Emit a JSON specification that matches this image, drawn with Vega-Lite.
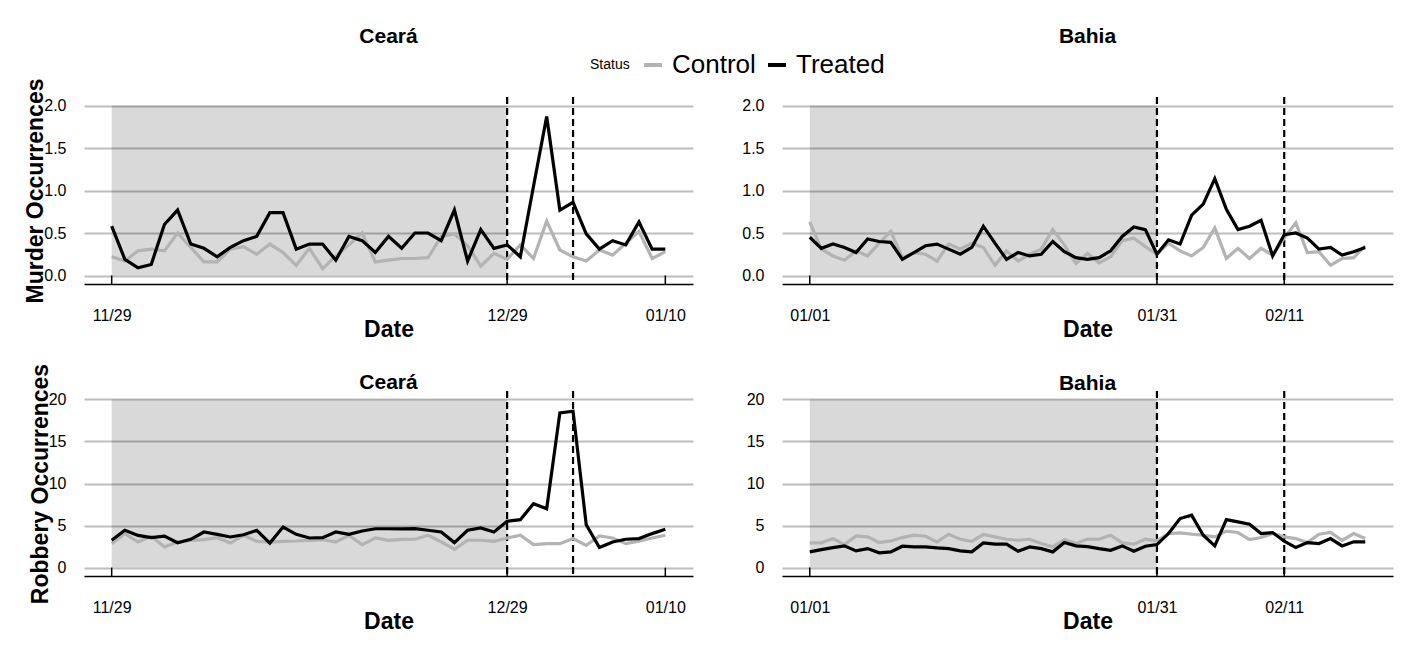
{
"$schema": "https://vega.github.io/schema/vega-lite/v6.json",
"background": "white",
"padding": {"left": 24, "top": 25, "right": 5, "bottom": 5},
"bounds": "flush",
"columns": 2,
"spacing": {"row": 107, "column": 89},
"config": {
  "font": "Liberation Sans",
  "view": {"stroke": null},
  "title": {"fontSize": 21, "fontWeight": "bold", "color": "black", "font": "Liberation Sans"},
  "axis": {"labelFont": "Liberation Sans", "titleFont": "Liberation Sans", "labelColor": "black", "titleColor": "black", "labelFontSize": 16, "titleFontSize": 23, "titleFontWeight": "bold"},
  "axisY": {"grid": true, "gridColor": "#bebebe", "gridWidth": 2, "domain": false, "ticks": false, "labelPadding": 18, "titlePadding": -4},
  "axisX": {"grid": false, "ticks": false, "domainColor": "black", "domainWidth": 1.5, "labelPadding": 23, "titlePadding": -5},
  "legend": {"labelFont": "Liberation Sans", "titleFont": "Liberation Sans"}
},
"datasets": {
  "ce_m": [
    {"date":"2011-11-29","Control":0.22,"Treated":0.58},
    {"date":"2011-11-30","Control":0.17,"Treated":0.19},
    {"date":"2011-12-01","Control":0.29,"Treated":0.09},
    {"date":"2011-12-02","Control":0.31,"Treated":0.13},
    {"date":"2011-12-03","Control":0.29,"Treated":0.60},
    {"date":"2011-12-04","Control":0.50,"Treated":0.77},
    {"date":"2011-12-05","Control":0.33,"Treated":0.37},
    {"date":"2011-12-06","Control":0.16,"Treated":0.32},
    {"date":"2011-12-07","Control":0.16,"Treated":0.22},
    {"date":"2011-12-08","Control":0.31,"Treated":0.33},
    {"date":"2011-12-09","Control":0.34,"Treated":0.41},
    {"date":"2011-12-10","Control":0.25,"Treated":0.46},
    {"date":"2011-12-11","Control":0.37,"Treated":0.74},
    {"date":"2011-12-12","Control":0.27,"Treated":0.74},
    {"date":"2011-12-13","Control":0.12,"Treated":0.31},
    {"date":"2011-12-14","Control":0.32,"Treated":0.37},
    {"date":"2011-12-15","Control":0.08,"Treated":0.37},
    {"date":"2011-12-16","Control":0.23,"Treated":0.18},
    {"date":"2011-12-17","Control":0.36,"Treated":0.46},
    {"date":"2011-12-18","Control":0.50,"Treated":0.41},
    {"date":"2011-12-19","Control":0.16,"Treated":0.27},
    {"date":"2011-12-20","Control":0.18,"Treated":0.46},
    {"date":"2011-12-21","Control":0.20,"Treated":0.32},
    {"date":"2011-12-22","Control":0.20,"Treated":0.50},
    {"date":"2011-12-23","Control":0.21,"Treated":0.50},
    {"date":"2011-12-24","Control":0.46,"Treated":0.41},
    {"date":"2011-12-25","Control":0.49,"Treated":0.77},
    {"date":"2011-12-26","Control":0.35,"Treated":0.17},
    {"date":"2011-12-27","Control":0.11,"Treated":0.54},
    {"date":"2011-12-28","Control":0.26,"Treated":0.32},
    {"date":"2011-12-29","Control":0.19,"Treated":0.36},
    {"date":"2011-12-30","Control":0.36,"Treated":0.22},
    {"date":"2011-12-31","Control":0.20,"Treated":1.05},
    {"date":"2012-01-01","Control":0.64,"Treated":1.87},
    {"date":"2012-01-02","Control":0.30,"Treated":0.77},
    {"date":"2012-01-03","Control":0.22,"Treated":0.86},
    {"date":"2012-01-04","Control":0.17,"Treated":0.49},
    {"date":"2012-01-05","Control":0.30,"Treated":0.31},
    {"date":"2012-01-06","Control":0.24,"Treated":0.41},
    {"date":"2012-01-07","Control":0.38,"Treated":0.36},
    {"date":"2012-01-08","Control":0.52,"Treated":0.63},
    {"date":"2012-01-09","Control":0.20,"Treated":0.31},
    {"date":"2012-01-10","Control":0.28,"Treated":0.31}
  ],
  "ce_r": [
    {"date":"2011-11-29","Control":2.85,"Treated":3.24},
    {"date":"2011-11-30","Control":4.03,"Treated":4.43},
    {"date":"2011-12-01","Control":3.04,"Treated":3.83},
    {"date":"2011-12-02","Control":3.72,"Treated":3.56},
    {"date":"2011-12-03","Control":2.45,"Treated":3.75},
    {"date":"2011-12-04","Control":3.04,"Treated":2.96},
    {"date":"2011-12-05","Control":3.24,"Treated":3.36},
    {"date":"2011-12-06","Control":3.32,"Treated":4.23},
    {"date":"2011-12-07","Control":3.56,"Treated":3.95},
    {"date":"2011-12-08","Control":2.92,"Treated":3.64},
    {"date":"2011-12-09","Control":3.83,"Treated":3.91},
    {"date":"2011-12-10","Control":3.12,"Treated":4.43},
    {"date":"2011-12-11","Control":3.04,"Treated":2.92},
    {"date":"2011-12-12","Control":3.12,"Treated":4.82},
    {"date":"2011-12-13","Control":3.16,"Treated":3.95},
    {"date":"2011-12-14","Control":3.24,"Treated":3.52},
    {"date":"2011-12-15","Control":3.32,"Treated":3.56},
    {"date":"2011-12-16","Control":3.04,"Treated":4.23},
    {"date":"2011-12-17","Control":3.83,"Treated":3.95},
    {"date":"2011-12-18","Control":2.73,"Treated":4.35},
    {"date":"2011-12-19","Control":3.52,"Treated":4.62},
    {"date":"2011-12-20","Control":3.24,"Treated":4.62},
    {"date":"2011-12-21","Control":3.36,"Treated":4.60},
    {"date":"2011-12-22","Control":3.37,"Treated":4.63},
    {"date":"2011-12-23","Control":3.84,"Treated":4.44},
    {"date":"2011-12-24","Control":3.05,"Treated":4.24},
    {"date":"2011-12-25","Control":2.18,"Treated":2.97},
    {"date":"2011-12-26","Control":3.25,"Treated":4.44},
    {"date":"2011-12-27","Control":3.25,"Treated":4.71},
    {"date":"2011-12-28","Control":3.13,"Treated":4.24},
    {"date":"2011-12-29","Control":3.52,"Treated":5.50},
    {"date":"2011-12-30","Control":3.84,"Treated":5.70},
    {"date":"2011-12-31","Control":2.73,"Treated":7.60},
    {"date":"2012-01-01","Control":2.85,"Treated":7.00},
    {"date":"2012-01-02","Control":2.85,"Treated":18.4},
    {"date":"2012-01-03","Control":3.45,"Treated":18.6},
    {"date":"2012-01-04","Control":2.65,"Treated":5.10},
    {"date":"2012-01-05","Control":3.76,"Treated":2.38},
    {"date":"2012-01-06","Control":3.52,"Treated":3.05},
    {"date":"2012-01-07","Control":2.85,"Treated":3.37},
    {"date":"2012-01-08","Control":3.13,"Treated":3.45},
    {"date":"2012-01-09","Control":3.52,"Treated":4.04},
    {"date":"2012-01-10","Control":3.84,"Treated":4.55}
  ],
  "ba_m": [
    {"date":"2012-01-01","Control":0.63,"Treated":0.45},
    {"date":"2012-01-02","Control":0.31,"Treated":0.32},
    {"date":"2012-01-03","Control":0.23,"Treated":0.37},
    {"date":"2012-01-04","Control":0.18,"Treated":0.33},
    {"date":"2012-01-05","Control":0.29,"Treated":0.27},
    {"date":"2012-01-06","Control":0.23,"Treated":0.43},
    {"date":"2012-01-07","Control":0.38,"Treated":0.40},
    {"date":"2012-01-08","Control":0.52,"Treated":0.39},
    {"date":"2012-01-09","Control":0.21,"Treated":0.19},
    {"date":"2012-01-10","Control":0.27,"Treated":0.27},
    {"date":"2012-01-11","Control":0.25,"Treated":0.35},
    {"date":"2012-01-12","Control":0.17,"Treated":0.37},
    {"date":"2012-01-13","Control":0.37,"Treated":0.31},
    {"date":"2012-01-14","Control":0.31,"Treated":0.25},
    {"date":"2012-01-15","Control":0.38,"Treated":0.33},
    {"date":"2012-01-16","Control":0.33,"Treated":0.58},
    {"date":"2012-01-17","Control":0.12,"Treated":0.38},
    {"date":"2012-01-18","Control":0.29,"Treated":0.19},
    {"date":"2012-01-19","Control":0.17,"Treated":0.27},
    {"date":"2012-01-20","Control":0.25,"Treated":0.23},
    {"date":"2012-01-21","Control":0.31,"Treated":0.25},
    {"date":"2012-01-22","Control":0.54,"Treated":0.40},
    {"date":"2012-01-23","Control":0.36,"Treated":0.28},
    {"date":"2012-01-24","Control":0.14,"Treated":0.21},
    {"date":"2012-01-25","Control":0.26,"Treated":0.19},
    {"date":"2012-01-26","Control":0.15,"Treated":0.21},
    {"date":"2012-01-27","Control":0.22,"Treated":0.29},
    {"date":"2012-01-28","Control":0.41,"Treated":0.46},
    {"date":"2012-01-29","Control":0.44,"Treated":0.57},
    {"date":"2012-01-30","Control":0.34,"Treated":0.54},
    {"date":"2012-01-31","Control":0.25,"Treated":0.25},
    {"date":"2012-02-01","Control":0.38,"Treated":0.42},
    {"date":"2012-02-02","Control":0.29,"Treated":0.37},
    {"date":"2012-02-03","Control":0.23,"Treated":0.71},
    {"date":"2012-02-04","Control":0.33,"Treated":0.84},
    {"date":"2012-02-05","Control":0.56,"Treated":1.14},
    {"date":"2012-02-06","Control":0.20,"Treated":0.78},
    {"date":"2012-02-07","Control":0.32,"Treated":0.54},
    {"date":"2012-02-08","Control":0.20,"Treated":0.58},
    {"date":"2012-02-09","Control":0.32,"Treated":0.65},
    {"date":"2012-02-10","Control":0.24,"Treated":0.23},
    {"date":"2012-02-11","Control":0.44,"Treated":0.48},
    {"date":"2012-02-12","Control":0.62,"Treated":0.50},
    {"date":"2012-02-13","Control":0.27,"Treated":0.44},
    {"date":"2012-02-14","Control":0.28,"Treated":0.31},
    {"date":"2012-02-15","Control":0.12,"Treated":0.33},
    {"date":"2012-02-16","Control":0.20,"Treated":0.24},
    {"date":"2012-02-17","Control":0.21,"Treated":0.28},
    {"date":"2012-02-18","Control":0.35,"Treated":0.33}
  ],
  "ba_r": [
    {"date":"2012-01-01","Control":2.94,"Treated":1.87},
    {"date":"2012-01-02","Control":2.94,"Treated":2.14},
    {"date":"2012-01-03","Control":3.45,"Treated":2.38},
    {"date":"2012-01-04","Control":2.74,"Treated":2.58},
    {"date":"2012-01-05","Control":3.77,"Treated":1.98},
    {"date":"2012-01-06","Control":3.65,"Treated":2.26},
    {"date":"2012-01-07","Control":2.98,"Treated":1.75},
    {"date":"2012-01-08","Control":3.17,"Treated":1.87},
    {"date":"2012-01-09","Control":3.57,"Treated":2.54},
    {"date":"2012-01-10","Control":3.85,"Treated":2.46},
    {"date":"2012-01-11","Control":3.73,"Treated":2.46},
    {"date":"2012-01-12","Control":3.06,"Treated":2.34},
    {"date":"2012-01-13","Control":3.97,"Treated":2.26},
    {"date":"2012-01-14","Control":3.37,"Treated":1.98},
    {"date":"2012-01-15","Control":3.13,"Treated":1.87},
    {"date":"2012-01-16","Control":3.93,"Treated":2.94},
    {"date":"2012-01-17","Control":3.65,"Treated":2.78},
    {"date":"2012-01-18","Control":3.37,"Treated":2.78},
    {"date":"2012-01-19","Control":3.25,"Treated":1.94},
    {"date":"2012-01-20","Control":3.37,"Treated":2.46},
    {"date":"2012-01-21","Control":2.86,"Treated":2.26},
    {"date":"2012-01-22","Control":2.46,"Treated":1.87},
    {"date":"2012-01-23","Control":3.33,"Treated":2.98},
    {"date":"2012-01-24","Control":2.86,"Treated":2.58},
    {"date":"2012-01-25","Control":3.40,"Treated":2.50},
    {"date":"2012-01-26","Control":3.37,"Treated":2.26},
    {"date":"2012-01-27","Control":3.85,"Treated":2.06},
    {"date":"2012-01-28","Control":2.94,"Treated":2.58},
    {"date":"2012-01-29","Control":2.78,"Treated":1.94},
    {"date":"2012-01-30","Control":3.37,"Treated":2.54},
    {"date":"2012-01-31","Control":3.17,"Treated":2.74},
    {"date":"2012-02-01","Control":4.05,"Treated":4.05},
    {"date":"2012-02-02","Control":4.13,"Treated":5.83},
    {"date":"2012-02-03","Control":3.97,"Treated":6.23},
    {"date":"2012-02-04","Control":3.85,"Treated":3.85},
    {"date":"2012-02-05","Control":3.65,"Treated":2.58},
    {"date":"2012-02-06","Control":4.33,"Treated":5.71},
    {"date":"2012-02-07","Control":4.17,"Treated":5.44},
    {"date":"2012-02-08","Control":3.33,"Treated":5.16},
    {"date":"2012-02-09","Control":3.57,"Treated":4.05},
    {"date":"2012-02-10","Control":4.05,"Treated":4.17},
    {"date":"2012-02-11","Control":3.65,"Treated":3.13},
    {"date":"2012-02-12","Control":3.45,"Treated":2.38},
    {"date":"2012-02-13","Control":2.98,"Treated":2.98},
    {"date":"2012-02-14","Control":3.97,"Treated":2.86},
    {"date":"2012-02-15","Control":4.17,"Treated":3.45},
    {"date":"2012-02-16","Control":3.25,"Treated":2.58},
    {"date":"2012-02-17","Control":4.05,"Treated":3.06},
    {"date":"2012-02-18","Control":3.45,"Treated":3.06}
  ]
},
"concat": [
  {"width": 609, "height": 187,
   "title": {"text": "Ceará", "offset": 31, "frame": "group"},
   "layer": [
    {"data": {"values": [{"x0":"2011-11-29","x1":"2011-12-29","y0":0,"y1":2}], "format": {"parse": {"x0":"date","x1":"date"}}},
     "mark": {"type":"rect","color":"black","opacity":0.15},
     "encoding": {"x":{"field":"x0","type":"temporal"},"x2":{"field":"x1"},"y":{"field":"y0","type":"quantitative"},"y2":{"field":"y1"}}},
    {"data": {"values": [{"d":"2011-12-29"},{"d":"2012-01-03"}]},
     "mark": {"type":"rule","color":"black","strokeWidth":2.2,"strokeDash":[7,4]},
     "encoding": {"x":{"field":"d","type":"temporal"}}},
    {"data": {"values": [{"d":"2011-11-29"},{"d":"2011-12-29"},{"d":"2012-01-10"}]},
     "mark": {"type":"rule","color":"black","strokeWidth":1.5},
     "encoding": {"x":{"field":"d","type":"temporal"},"y":{"datum":-0.1},"y2":{"datum":0}}},
    {"data": {"name":"ce_m"},
     "transform": [{"fold":["Control","Treated"],"as":["Status","value"]}],
     "mark": {"type":"line","strokeWidth":3.2},
     "encoding": {
       "x":{"field":"date","type":"temporal","scale":{"type":"utc","domain":[{"year":2011,"month":11,"date":26,"hours":21,"minutes":36,"utc":true},{"year":2012,"month":1,"date":12,"hours":2,"minutes":24,"utc":true}]},
            "axis":{"title":"Date","format":"%m/%d","values":[{"year":2011,"month":11,"date":29,"utc":true},{"year":2011,"month":12,"date":29,"utc":true},{"year":2012,"month":1,"date":10,"utc":true}]}},
       "y":{"field":"value","type":"quantitative","scale":{"domain":[-0.1,2.1],"nice":false,"zero":false},
            "axis":{"title":"Murder Occurrences","values":[0,0.5,1,1.5,2],"format":".1f"}},
       "color":{"field":"Status","type":"nominal","scale":{"domain":["Control","Treated"],"range":["#b3b3b3","#000000"]},
            "legend":{"orient":"none","legendX":506,"legendY":-45,"direction":"horizontal","title":"Status","titleOrient":"left","titleFontSize":14,"titleFontWeight":"normal","titleColor":"black","labelColor":"black","labelFontSize":26,"symbolType":"stroke","symbolSize":324,"symbolStrokeWidth":4,"columnPadding":4,"labelOffset":6,"titlePadding":10}}
     }}
   ]},
  {"width": 611, "height": 187,
   "title": {"text": "Bahia", "offset": 49, "frame": "group"},
   "layer": [
    {"data": {"values": [{"x0":"2012-01-01","x1":"2012-01-31","y0":0,"y1":2}], "format": {"parse": {"x0":"date","x1":"date"}}},
     "mark": {"type":"rect","color":"black","opacity":0.15},
     "encoding": {"x":{"field":"x0","type":"temporal"},"x2":{"field":"x1"},"y":{"field":"y0","type":"quantitative"},"y2":{"field":"y1"}}},
    {"data": {"values": [{"d":"2012-01-31"},{"d":"2012-02-11"}]},
     "mark": {"type":"rule","color":"black","strokeWidth":2.2,"strokeDash":[7,4]},
     "encoding": {"x":{"field":"d","type":"temporal"}}},
    {"data": {"values": [{"d":"2012-01-01"},{"d":"2012-01-31"},{"d":"2012-02-11"}]},
     "mark": {"type":"rule","color":"black","strokeWidth":1.5},
     "encoding": {"x":{"field":"d","type":"temporal"},"y":{"datum":-0.1},"y2":{"datum":0}}},
    {"data": {"name":"ba_m"},
     "transform": [{"fold":["Control","Treated"],"as":["Status","value"]}],
     "mark": {"type":"line","strokeWidth":3.2},
     "encoding": {
       "x":{"field":"date","type":"temporal","scale":{"type":"utc","domain":[{"year":2011,"month":12,"date":29,"hours":14,"minutes":24,"utc":true},{"year":2012,"month":2,"date":20,"hours":9,"minutes":36,"utc":true}]},
            "axis":{"title":"Date","format":"%m/%d","values":[{"year":2012,"month":1,"date":1,"utc":true},{"year":2012,"month":1,"date":31,"utc":true},{"year":2012,"month":2,"date":11,"utc":true}]}},
       "y":{"field":"value","type":"quantitative","scale":{"domain":[-0.1,2.1],"nice":false,"zero":false},
            "axis":{"title":null,"values":[0,0.5,1,1.5,2],"format":".1f"}},
       "color":{"field":"Status","type":"nominal","scale":{"domain":["Control","Treated"],"range":["#b3b3b3","#000000"]}}
     }}
   ]},
  {"width": 609, "height": 185,
   "title": {"text": "Ceará", "offset": -30, "frame": "group"},
   "layer": [
    {"data": {"values": [{"x0":"2011-11-29","x1":"2011-12-29","y0":0,"y1":20}], "format": {"parse": {"x0":"date","x1":"date"}}},
     "mark": {"type":"rect","color":"black","opacity":0.15},
     "encoding": {"x":{"field":"x0","type":"temporal"},"x2":{"field":"x1"},"y":{"field":"y0","type":"quantitative"},"y2":{"field":"y1"}}},
    {"data": {"values": [{"d":"2011-12-29"},{"d":"2012-01-03"}]},
     "mark": {"type":"rule","color":"black","strokeWidth":2.2,"strokeDash":[7,4]},
     "encoding": {"x":{"field":"d","type":"temporal"}}},
    {"data": {"values": [{"d":"2011-11-29"},{"d":"2011-12-29"},{"d":"2012-01-10"}]},
     "mark": {"type":"rule","color":"black","strokeWidth":1.5},
     "encoding": {"x":{"field":"d","type":"temporal"},"y":{"datum":-1},"y2":{"datum":0}}},
    {"data": {"name":"ce_r"},
     "transform": [{"fold":["Control","Treated"],"as":["Status","value"]}],
     "mark": {"type":"line","strokeWidth":3.2},
     "encoding": {
       "x":{"field":"date","type":"temporal","scale":{"type":"utc","domain":[{"year":2011,"month":11,"date":26,"hours":21,"minutes":36,"utc":true},{"year":2012,"month":1,"date":12,"hours":2,"minutes":24,"utc":true}]},
            "axis":{"title":"Date","format":"%m/%d","values":[{"year":2011,"month":11,"date":29,"utc":true},{"year":2011,"month":12,"date":29,"utc":true},{"year":2012,"month":1,"date":10,"utc":true}]}},
       "y":{"field":"value","type":"quantitative","scale":{"domain":[-1,21],"nice":false,"zero":false},
            "axis":{"title":"Robbery Occurrences","values":[0,5,10,15,20],"format":"d"}},
       "color":{"field":"Status","type":"nominal","scale":{"domain":["Control","Treated"],"range":["#b3b3b3","#000000"]}}
     }}
   ]},
  {"width": 611, "height": 185,
   "title": {"text": "Bahia", "offset": -4, "frame": "group"},
   "layer": [
    {"data": {"values": [{"x0":"2012-01-01","x1":"2012-01-31","y0":0,"y1":20}], "format": {"parse": {"x0":"date","x1":"date"}}},
     "mark": {"type":"rect","color":"black","opacity":0.15},
     "encoding": {"x":{"field":"x0","type":"temporal"},"x2":{"field":"x1"},"y":{"field":"y0","type":"quantitative"},"y2":{"field":"y1"}}},
    {"data": {"values": [{"d":"2012-01-31"},{"d":"2012-02-11"}]},
     "mark": {"type":"rule","color":"black","strokeWidth":2.2,"strokeDash":[7,4]},
     "encoding": {"x":{"field":"d","type":"temporal"}}},
    {"data": {"values": [{"d":"2012-01-01"},{"d":"2012-01-31"},{"d":"2012-02-11"}]},
     "mark": {"type":"rule","color":"black","strokeWidth":1.5},
     "encoding": {"x":{"field":"d","type":"temporal"},"y":{"datum":-1},"y2":{"datum":0}}},
    {"data": {"name":"ba_r"},
     "transform": [{"fold":["Control","Treated"],"as":["Status","value"]}],
     "mark": {"type":"line","strokeWidth":3.2},
     "encoding": {
       "x":{"field":"date","type":"temporal","scale":{"type":"utc","domain":[{"year":2011,"month":12,"date":29,"hours":14,"minutes":24,"utc":true},{"year":2012,"month":2,"date":20,"hours":9,"minutes":36,"utc":true}]},
            "axis":{"title":"Date","format":"%m/%d","values":[{"year":2012,"month":1,"date":1,"utc":true},{"year":2012,"month":1,"date":31,"utc":true},{"year":2012,"month":2,"date":11,"utc":true}]}},
       "y":{"field":"value","type":"quantitative","scale":{"domain":[-1,21],"nice":false,"zero":false},
            "axis":{"title":null,"values":[0,5,10,15,20],"format":"d"}},
       "color":{"field":"Status","type":"nominal","scale":{"domain":["Control","Treated"],"range":["#b3b3b3","#000000"]}}
     }}
   ]}
]
}
